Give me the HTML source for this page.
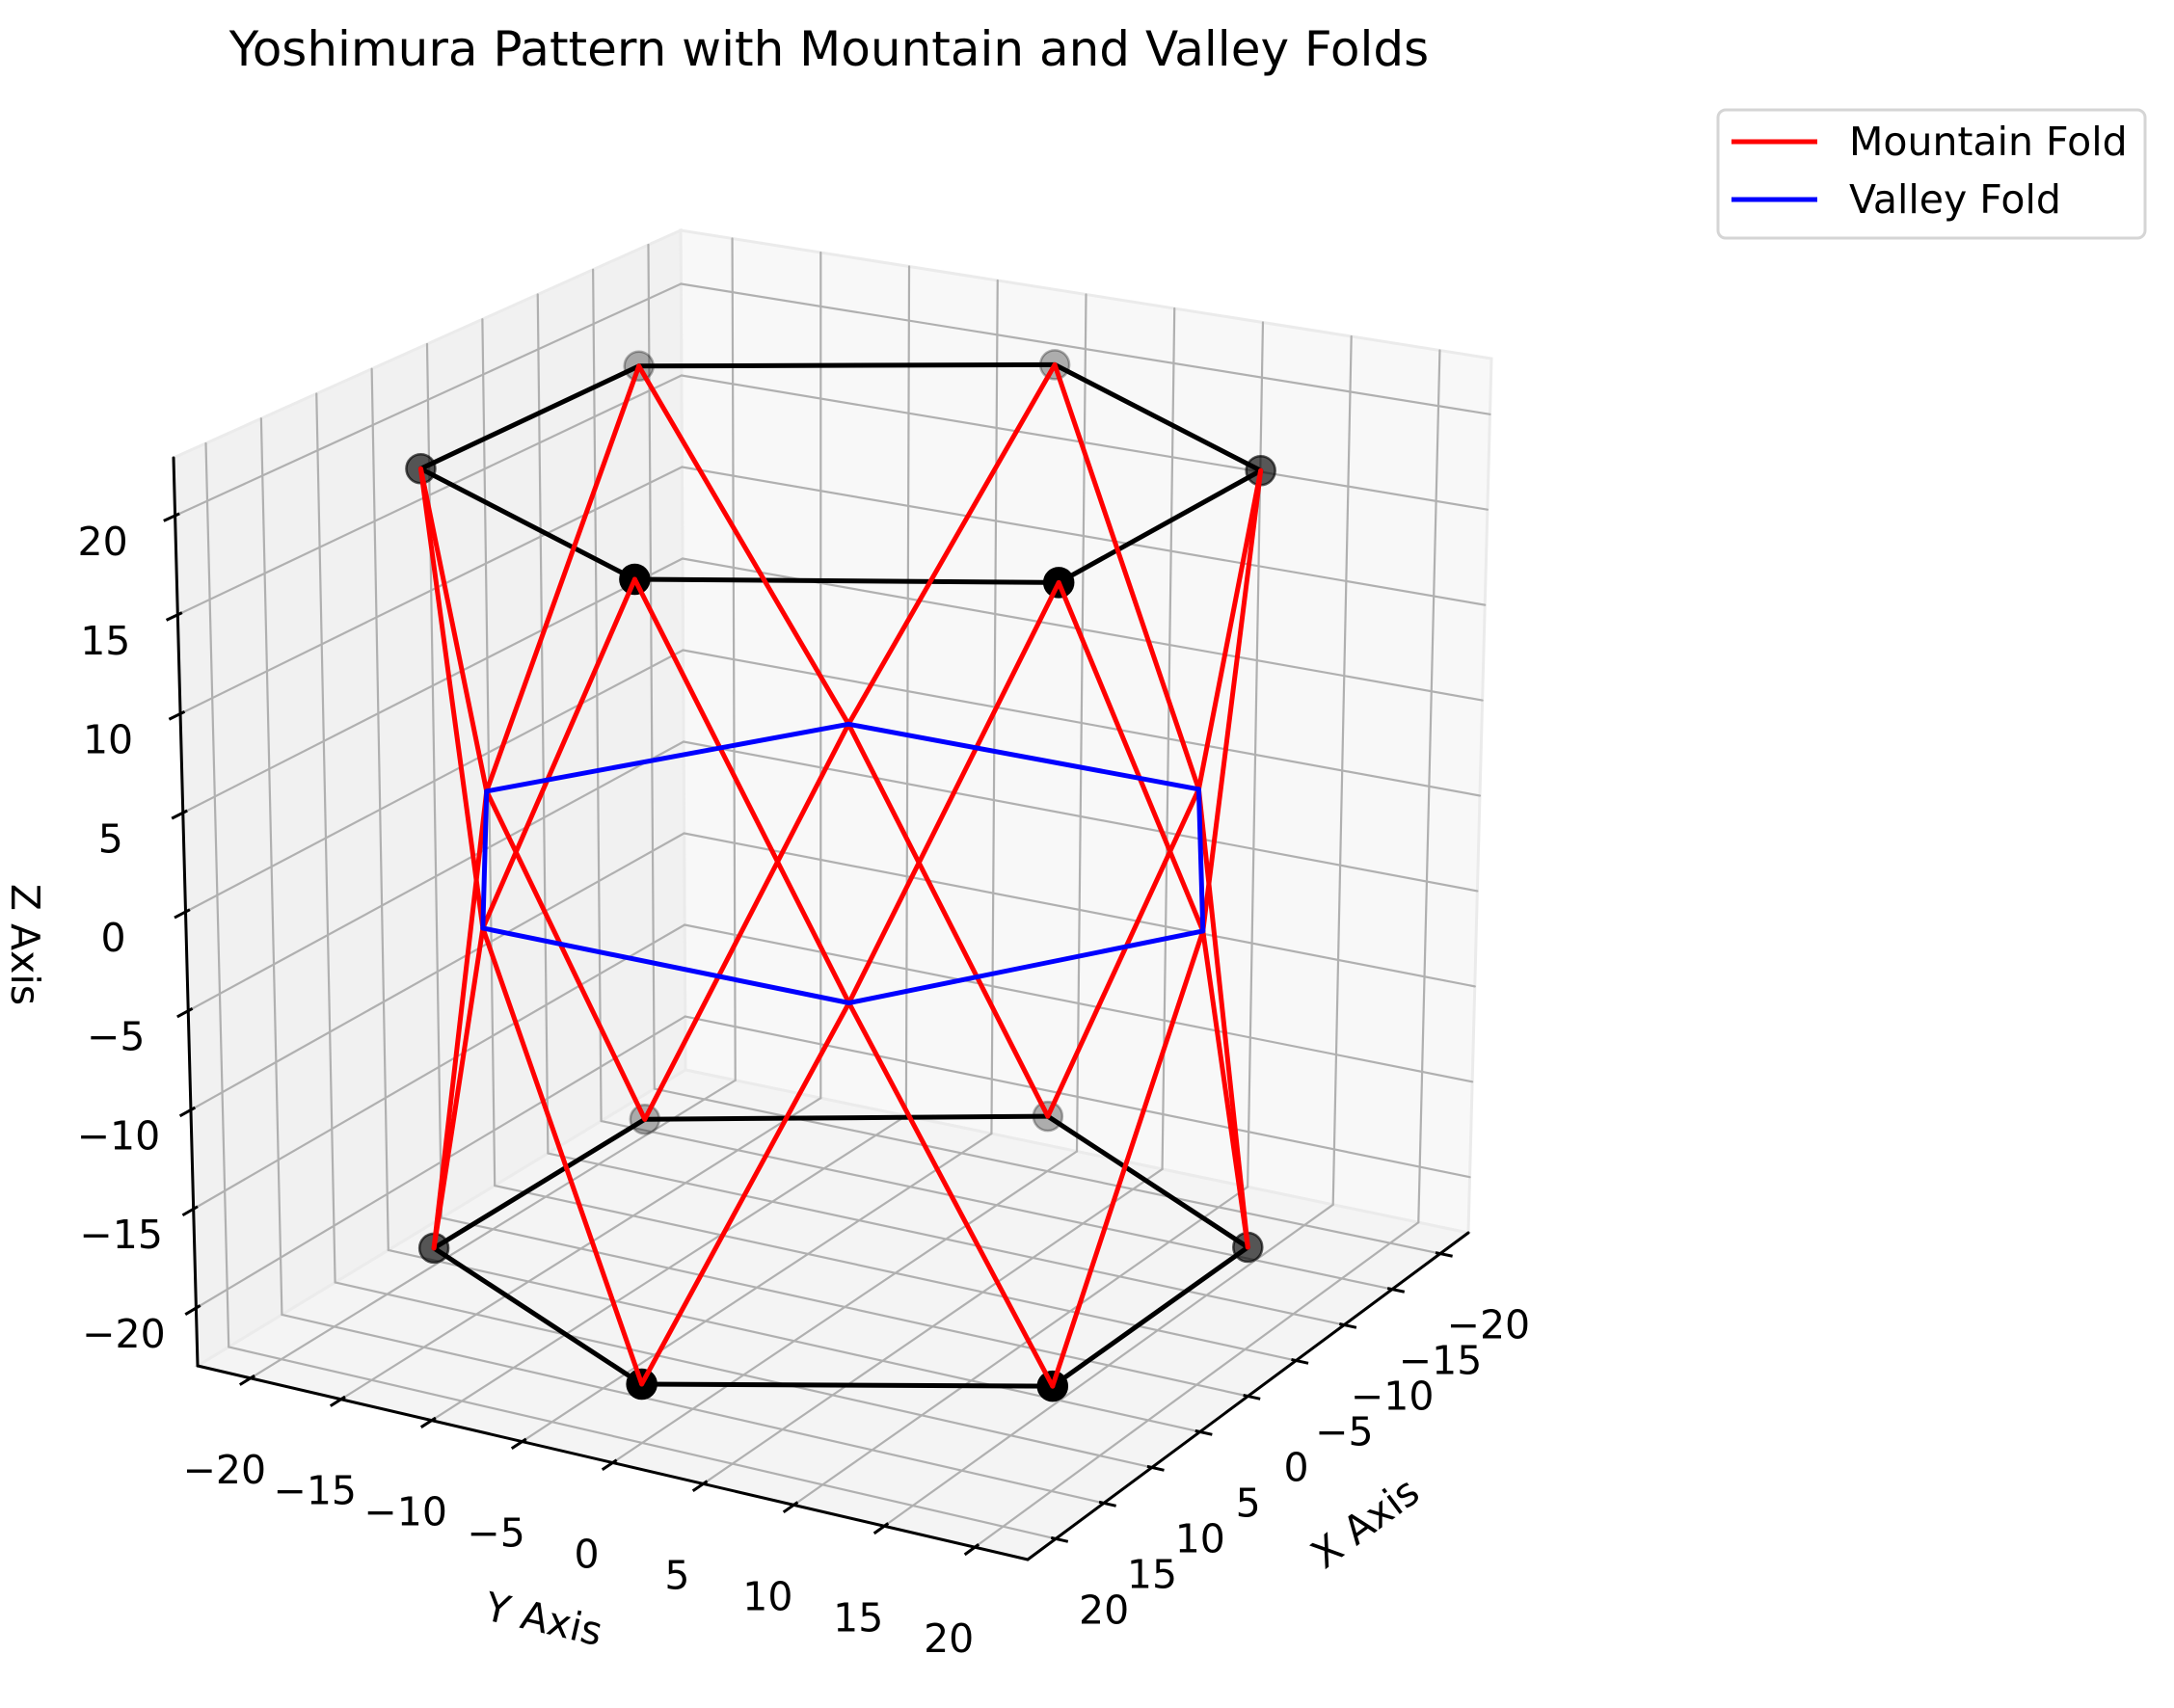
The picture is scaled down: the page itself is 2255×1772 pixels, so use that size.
<!DOCTYPE html>
<html><head><meta charset="utf-8"><style>
html,body{margin:0;padding:0;background:#fff;}
svg{display:block;font-family:"DejaVu Sans","Liberation Sans",sans-serif;}
</style></head><body>
<svg id="chart" width="2255" height="1772" viewBox="0 0 2255 1772" xmlns="http://www.w3.org/2000/svg">
<text x="860" y="68" font-size="50" text-anchor="middle">Yoshimura Pattern with Mountain and Valley Folds</text>
<g id="panes"></g>
<g id="grid"></g>
<g id="axes"></g>
<g id="data"></g>
<g>
<rect x="1782" y="114" width="443" height="133" rx="8" fill="#fff" stroke="#d5d5d5" stroke-width="3"/>
<line x1="1796" y1="147" x2="1885" y2="147" stroke="#ff0000" stroke-width="5"/>
<text x="1918" y="161" font-size="41">Mountain Fold</text>
<line x1="1796" y1="207" x2="1885" y2="207" stroke="#0000ff" stroke-width="5"/>
<text x="1918" y="221" font-size="41">Valley Fold</text>
</g>
</svg>
<script>
// ---- data ----
const hexAngles = [0, 60, 120, 180, 240, 300];
const valleyAngles = [30, 90, 150, 210, 270, 330];
const hexRadius = [20];
const valleyRadius = [20];
const topZ = [20];
const bottomZ = [-20];
const valleyZ = [0];
const tickValues = [-20, -15, -10, -5, 0, 5, 10, 15, 20];
const tickLabels = ["\u221220", "\u221215", "\u221210", "\u22125", "0", "5", "10", "15", "20"];
const axisLimits = [-22.92, 22.92];

// ---- projection (screen corners of the axes box) ----
const NS = "http://www.w3.org/2000/svg";
const C = {
  "001": [706, 239], "101": [180, 475], "011": [1547, 372], "111": [1072, 637],
  "000": [711, 1110], "100": [205, 1417], "010": [1523, 1279], "110": [1066, 1618]
};
const LO = axisLimits[0], HI = axisLimits[1];
function lerp(a, b, t) { return [a[0] + (b[0] - a[0]) * t, a[1] + (b[1] - a[1]) * t]; }
function proj(x, y, z) {
  const u = (x - LO) / (HI - LO), v = (y - LO) / (HI - LO), w = (z - LO) / (HI - LO);
  function face(k) {
    const a = lerp(C["0" + "0" + k], C["1" + "0" + k], u);
    const b = lerp(C["0" + "1" + k], C["1" + "1" + k], u);
    return lerp(a, b, v);
  }
  return lerp(face("0"), face("1"), w);
}
function mk(tag, attrs, parent) {
  const el = document.createElementNS(NS, tag);
  for (const k in attrs) el.setAttribute(k, attrs[k]);
  parent.appendChild(el);
  return el;
}
function line3(p, q, stroke, sw, parent, name) {
  const a = proj(p[0], p[1], p[2]), b = proj(q[0], q[1], q[2]);
  const el = mk("line", { x1: a[0], y1: a[1], x2: b[0], y2: b[1], stroke: stroke, "stroke-width": sw, "stroke-linecap": "round" }, parent);
  
  
  return el;
}
function poly3(pts, fill, parent, name) {
  const s = pts.map(p => proj(p[0], p[1], p[2]).join(",")).join(" ");
  const el = mk("polygon", { points: s, fill: fill, stroke: "#ebebeb", "stroke-width": 3 }, parent);
  
  
}

// ---- panes ----
const panes = document.getElementById("panes");
poly3([[LO, LO, LO], [LO, HI, LO], [LO, HI, HI], [LO, LO, HI]], "#f8f8f8", panes, "x-pane");
poly3([[LO, LO, LO], [HI, LO, LO], [HI, LO, HI], [LO, LO, HI]], "#f1f1f1", panes, "y-pane");
poly3([[LO, LO, LO], [HI, LO, LO], [HI, HI, LO], [LO, HI, LO]], "#f4f4f4", panes, "z-pane-floor");

// ---- gridlines ----
const grid = document.getElementById("grid");
const GC = "#b0b0b0", GW = 2.2;
tickValues.forEach(t => {
  line3([t, LO, LO], [t, LO, HI], GC, GW, grid, "x-grid-wall");
  line3([t, LO, LO], [t, HI, LO], GC, GW, grid, "x-grid-floor");
  line3([LO, t, LO], [LO, t, HI], GC, GW, grid, "y-grid-wall");
  line3([LO, t, LO], [HI, t, LO], GC, GW, grid, "y-grid-floor");
  line3([LO, LO, t], [LO, HI, t], GC, GW, grid, "z-grid-xpane");
  line3([LO, LO, t], [HI, LO, t], GC, GW, grid, "z-grid-ypane");
});

// ---- axes, ticks, labels ----
const axes = document.getElementById("axes");
line3([HI, LO, LO], [HI, LO, HI], "#000", 3, axes, "z-axis-line");
line3([HI, LO, LO], [HI, HI, LO], "#000", 3, axes, "y-axis-line");
line3([HI, HI, LO], [LO, HI, LO], "#000", 3, axes, "x-axis-line");
function unit(a, b) { const dx = b[0] - a[0], dy = b[1] - a[1], n = Math.hypot(dx, dy); return [dx / n, dy / n]; }
function tick(p, d, name) {
  const el = mk("line", { x1: p[0] - 5 * d[0], y1: p[1] - 5 * d[1], x2: p[0] + 13 * d[0], y2: p[1] + 13 * d[1], stroke: "#000", "stroke-width": 3 }, axes);
  
  
}
function label(x, y, txt, name) {
  const el = mk("text", { x: x, y: y + 14, "font-size": 41, "text-anchor": "middle" }, axes);
  el.textContent = txt;
  
  
}
tickValues.forEach((t, i) => {
  let p = proj(HI, LO, t), d = unit(proj(LO, LO, t), p);
  tick(p, d, "z-tick");
  label(p[0] - 75, p[1] + 27, tickLabels[i], "z-tick-label");
  p = proj(HI, t, LO); d = unit(proj(LO, t, LO), p);
  tick(p, d, "y-tick");
  label(p[0] - 27, p[1] + 95, tickLabels[i], "y-tick-label");
  p = proj(t, HI, LO); d = unit(proj(t, LO, LO), p);
  tick(p, d, "x-tick");
  label(p[0] + 50, p[1] + 74, tickLabels[i], "x-tick-label");
});
function axisTitle(x, y, rot, txt, name) {
  const el = mk("text", { x: x, y: y, "font-size": 41, "text-anchor": "middle", "dominant-baseline": "central", transform: "rotate(" + rot + " " + x + " " + y + ")" }, axes);
  el.textContent = txt;
  
  
}
axisTitle(26, 980, 90, "Z Axis", "z-axis-title");
axisTitle(564, 1680, 13, "Y Axis", "y-axis-title");
axisTitle(1416, 1580, -36.6, "X Axis", "x-axis-title");

// ---- data geometry ----
const dataG = document.getElementById("data");
const R = hexRadius[0], r = valleyRadius[0];
const rad = a => a * Math.PI / 180;
const topPts = hexAngles.map(a => [R * Math.cos(rad(a)), R * Math.sin(rad(a)), topZ[0]]);
const botPts = hexAngles.map(a => [R * Math.cos(rad(a)), R * Math.sin(rad(a)), bottomZ[0]]);
const valPts = valleyAngles.map(a => [r * Math.cos(rad(a)), r * Math.sin(rad(a)), valleyZ[0]]);

const view = [Math.cos(rad(30)), Math.sin(rad(30))];
const allPts = topPts.concat(botPts);
const depths = allPts.map(p => p[0] * view[0] + p[1] * view[1]);
const dmin = Math.min(...depths), dmax = Math.max(...depths);
allPts.forEach((p, i) => {
  const s = proj(p[0], p[1], p[2]);
  const a = 0.3 + 0.7 * (depths[i] - dmin) / (dmax - dmin);
  const c = mk("circle", { cx: s[0], cy: s[1], r: 15, fill: "#000", "fill-opacity": a, stroke: "#000", "stroke-opacity": a, "stroke-width": 2.5 }, dataG);
  
  
});
for (let i = 0; i < 6; i++) {
  line3(topPts[i], topPts[(i + 1) % 6], "#000", 5, dataG, "top-hexagon-edge");
  line3(botPts[i], botPts[(i + 1) % 6], "#000", 5, dataG, "bottom-hexagon-edge");
}
for (let i = 0; i < 6; i++) {
  const vPrev = valPts[(i + 5) % 6], vNext = valPts[i];
  line3(topPts[i], vPrev, "#ff0000", 5, dataG, "mountain-fold");
  line3(topPts[i], vNext, "#ff0000", 5, dataG, "mountain-fold");
  line3(botPts[i], vPrev, "#ff0000", 5, dataG, "mountain-fold");
  line3(botPts[i], vNext, "#ff0000", 5, dataG, "mountain-fold");
}
for (let i = 0; i < 6; i++) {
  line3(valPts[i], valPts[(i + 1) % 6], "#0000ff", 5, dataG, "valley-fold");
}
</script>
</body></html>
